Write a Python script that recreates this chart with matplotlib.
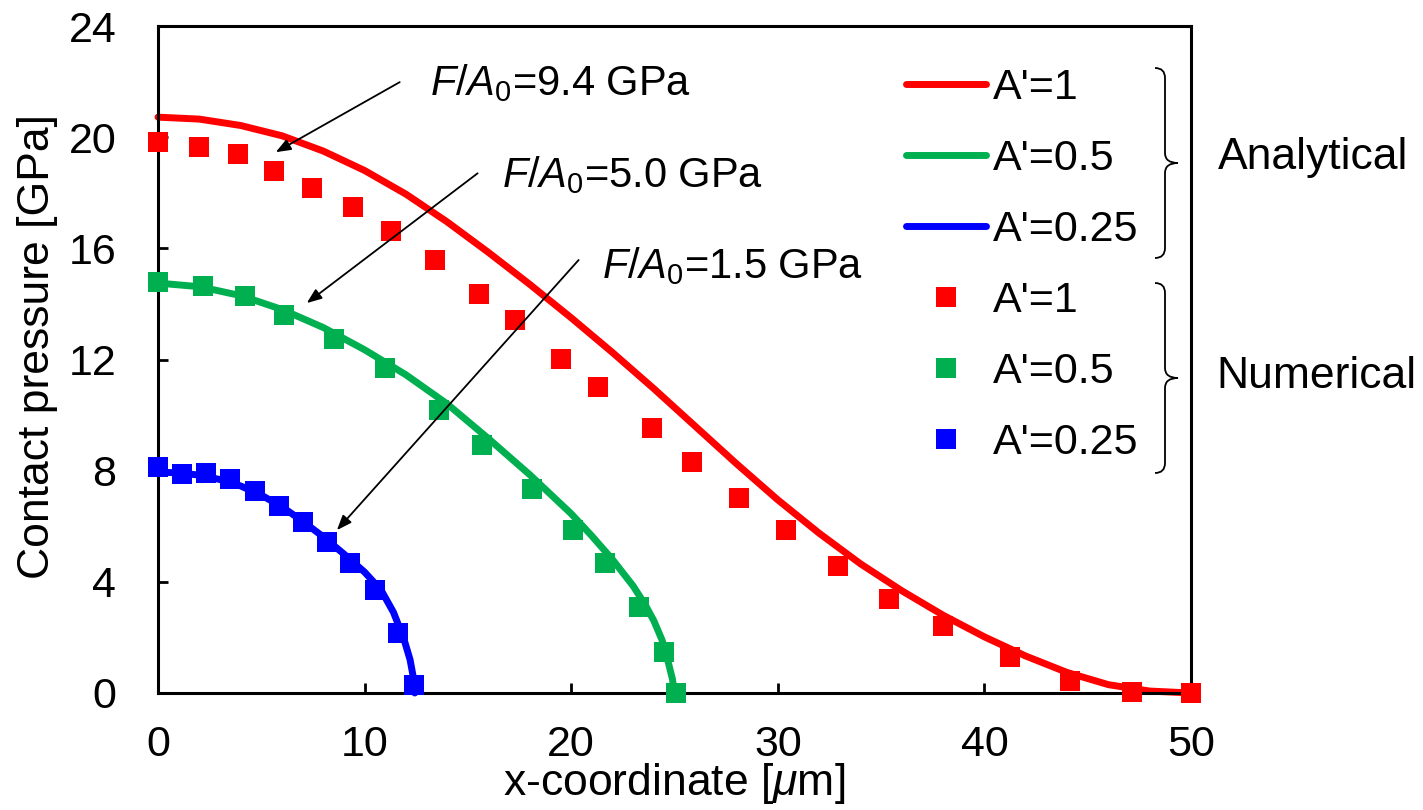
import matplotlib
matplotlib.use("Agg")
import matplotlib.pyplot as plt
from matplotlib.path import Path
from matplotlib.patches import PathPatch
from matplotlib.lines import Line2D

plt.rcParams['font.family'] = ['Liberation Sans', 'DejaVu Sans']
plt.rcParams['mathtext.fontset'] = 'custom'
plt.rcParams['mathtext.rm'] = 'Liberation Sans'
plt.rcParams['mathtext.it'] = 'Liberation Sans:italic'

# Analytical curves
ana1_x = [0, 2, 4, 6, 8, 10, 12, 14, 16, 18, 20, 22, 24, 26, 28, 30, 32, 34, 36, 38, 40, 42, 44, 46, 48, 50]
ana1_y = [20.72, 20.65, 20.42, 20.05, 19.5, 18.8, 17.95, 16.95, 15.85, 14.7, 13.5, 12.25, 10.95,
          9.6, 8.25, 6.95, 5.75, 4.65, 3.68, 2.8, 2.02, 1.33, 0.74, 0.3, 0.07, 0.0]
ana05_x = [0, 2, 4, 6, 8, 10, 12, 14, 16, 18, 20, 21, 22, 23, 23.6, 24, 24.4, 24.7, 24.9, 25.0]
ana05_y = [14.75, 14.62, 14.3, 13.8, 13.15, 12.35, 11.45, 10.4, 9.15, 7.85, 6.45, 5.65, 4.8, 3.85,
           3.15, 2.6, 1.9, 1.1, 0.5, 0.0]
ana025_x = [0, 1, 2, 3, 4, 5, 6, 7, 8, 9, 10, 10.8, 11.4, 11.9, 12.2, 12.35, 12.43]
ana025_y = [7.95, 7.92, 7.84, 7.68, 7.45, 7.12, 6.7, 6.18, 5.62, 5.0, 4.35, 3.7, 2.9, 1.95, 1.2, 0.6, 0.0]

# Numerical results
num1_x = [0, 1.98, 3.87, 5.6, 7.45, 9.43, 11.3, 13.4, 15.52, 17.26, 19.49, 21.3, 23.9, 25.87, 28.1, 30.4, 32.9, 35.4, 38.0, 41.25, 44.15, 47.15, 50.0]
num1_y = [19.82, 19.64, 19.39, 18.78, 18.17, 17.48, 16.62, 15.58, 14.35, 13.42, 12.01, 11.0, 9.53, 8.31, 7.01, 5.86, 4.57, 3.38, 2.41, 1.3, 0.43, 0.04, 0.0]
num05_x = [0, 2.18, 4.2, 6.09, 8.5, 10.97, 13.6, 15.7, 18.1, 20.07, 21.66, 23.3, 24.47, 25.05]
num05_y = [14.78, 14.64, 14.28, 13.6, 12.73, 11.69, 10.2, 8.92, 7.34, 5.86, 4.68, 3.1, 1.47, 0.0]
num025_x = [0, 1.16, 2.32, 3.48, 4.69, 5.85, 7.01, 8.17, 9.28, 10.49, 11.6, 12.38]
num025_y = [8.13, 7.88, 7.91, 7.7, 7.27, 6.73, 6.15, 5.43, 4.68, 3.7, 2.16, 0.29]

labels = ["A'=1", "A'=0.5", "A'=0.25"]
colors = ['#FF0000', '#00B050', '#0000FF']
loads = ['9.4', '5.0', '1.5']

W, H = 1423, 810
fig = plt.figure(figsize=(W / 100, H / 100), dpi=100)
ax = fig.add_axes([158 / W, 1 - 693 / H, (1191 - 158) / W, (693 - 26) / H])

ana = [(ana1_x, ana1_y), (ana05_x, ana05_y), (ana025_x, ana025_y)]
num = [(num1_x, num1_y), (num05_x, num05_y), (num025_x, num025_y)]
handles = []
for (x, y), c, lab in zip(ana, colors, labels):
    ax.plot(x, y, color=c, lw=5, solid_capstyle='round', solid_joinstyle='round', clip_on=False, zorder=2)
    handles.append(Line2D([], [], color=c, lw=5, solid_capstyle='round', label=lab))
for (x, y), c, lab in zip(num, colors, labels):
    ax.plot(x, y, 's', color=c, ms=14, mew=0, clip_on=False, zorder=3)
    handles.append(Line2D([], [], marker='s', ls='none', color=c, ms=14, mew=0, label=lab))

ax.set_xlim(0, 50)
ax.set_ylim(0, 24)
ax.set_xticks(range(0, 51, 10))
ax.set_yticks(range(0, 25, 4))
ax.tick_params(direction='in', length=7, width=2, labelsize=31)
ax.tick_params(axis='x', pad=23)
ax.tick_params(axis='y', pad=30)
for s in ax.spines.values():
    s.set_linewidth(2.2)

ax.set_xlabel(r"x-coordinate [$\mu$m]", fontsize=32)
ax.xaxis.set_label_coords(0.5, -0.1025)
ax.set_ylabel("Contact pressure [GPa]", fontsize=32)
ax.yaxis.set_label_coords(-0.097, 0.52)

# load annotations
tails = [(11.7, 21.98), (15.47, 18.7), (20.36, 15.58)]
heads = [(5.7, 19.46), (7.2, 14.03), (8.66, 5.86)]
text_pos = [(13.15, 21.51), (16.63, 18.2), (21.47, 14.93)]
for t, h, p, f in zip(tails, heads, text_pos, loads):
    ax.annotate('', xy=h, xytext=t,
                arrowprops=dict(arrowstyle='-|>,head_length=0.9,head_width=0.35', color='black', lw=1.3,
                                shrinkA=0, shrinkB=0))
    ax.text(p[0], p[1], r"$F/A_0$=" + f + " GPa", fontsize=30, va='baseline', ha='left')

ax.legend(handles=handles, loc='upper left', bbox_to_anchor=(906 / W, 1 - 68 / H),
          bbox_transform=fig.transFigure, frameon=False, fontsize=31, borderpad=0,
          borderaxespad=0, handlelength=1.85, handletextpad=0.17, labelspacing=0.72, numpoints=1)


def brace(xl, xm, xt, ytop, ybot, r=10):
    ymid = (ytop + ybot) / 2
    pts = [(xl, ytop), (xm, ytop), (xm, ytop + r),
           (xm, ymid - r), (xm, ymid), (xt, ymid),
           (xm, ymid), (xm, ymid + r),
           (xm, ybot - r), (xm, ybot), (xl, ybot)]
    codes = [Path.MOVETO, Path.CURVE3, Path.CURVE3,
             Path.LINETO, Path.CURVE3, Path.CURVE3,
             Path.CURVE3, Path.CURVE3,
             Path.LINETO, Path.CURVE3, Path.CURVE3]
    verts = [(px / W, 1 - py / H) for px, py in pts]
    fig.add_artist(PathPatch(Path(verts, codes), transform=fig.transFigure,
                             fill=False, lw=1.3, color='black'))


brace(1155, 1165, 1178, 68, 258)
brace(1155, 1165, 1178, 283, 473)
fig.text(1218 / W, 1 - 157 / H, "Analytical", fontsize=32, va='center', ha='left')
fig.text(1216 / W, 1 - 377 / H, "Numerical", fontsize=32, va='center', ha='left')

fig.savefig('out.png', dpi=100)
